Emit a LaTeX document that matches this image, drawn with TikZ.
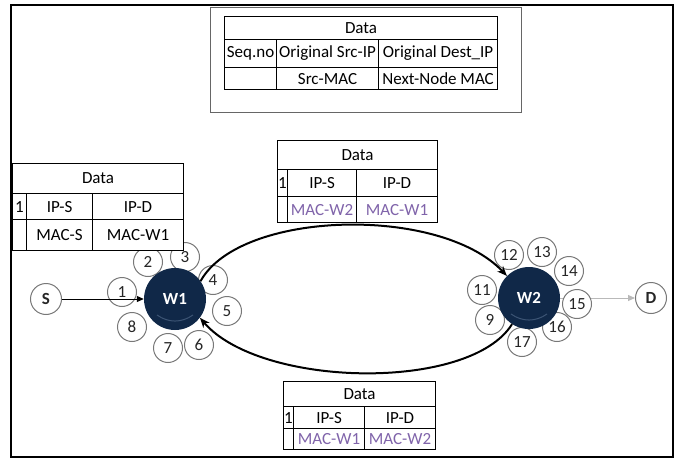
\documentclass[tikz,border=0pt]{standalone}
\usepackage{fontspec}
\setmainfont{Carlito}
\usetikzlibrary{arrows.meta, positioning}
\definecolor{wnavy}{RGB}{16,40,72}
\definecolor{wshade}{RGB}{60,84,116}
\definecolor{macpurple}{RGB}{128,100,170}
\definecolor{portgray}{RGB}{120,120,120}

\begin{document}
\begin{tikzpicture}[
  x=1pt, y=-1pt,
  cell/.style={draw, fill=white, line width=1.1pt, anchor=north west, inner sep=0pt, font=\fontsize{17}{19}\selectfont},
  mac/.style={cell, text=macpurple},
  port/.style={circle, draw=portgray, fill=white, line width=1pt, minimum size=29pt, inner sep=0pt, text=black!85, font=\fontsize{17}{19}\selectfont},
  term/.style={port, minimum size=31pt, font=\bfseries\fontsize{17}{19}\selectfont},
  hub/.style={circle, fill=wnavy, minimum size=62pt, inner sep=0pt, text=white, font=\bfseries\fontsize{17}{19}\selectfont},
  link/.style={-{Stealth[length=10pt, width=8pt]}, line width=2pt},
  arr/.style={-{Triangle[length=7pt, width=6pt]}, line width=1pt}
]
  \useasboundingbox (0,0) rectangle (678,458);
  \draw[line width=2pt] (11,5) rectangle (673,457);

  % end points
  \node[term] (S) at (46,299) {S};
  \node[term] (D) at (651,298) {D};
  \draw[arr, color=gray!55] (529,298) -- (D);

  % ports of W1
  \node[port] (p1) at (122,292) {1};
  \node[port] (p2) at (148,262) {2};
  \node[port] (p3) at (185,257) {3};
  \node[port] (p4) at (213,280) {4};
  \node[port] (p5) at (227,311) {5};
  \node[port] (p6) at (199,345) {6};
  \node[port] (p7) at (168,348) {7};
  \node[port] (p8) at (132,327) {8};

  % ports of W2
  \node[port] (p9) at (490,320) {9};
  \node[port] (p11) at (482,290) {11};
  \node[port] (p12) at (509,255) {12};
  \node[port] (p13) at (542,252) {13};
  \node[port] (p14) at (569,271) {14};
  \node[port] (p15) at (577,304) {15};
  \node[port] (p16) at (557,327) {16};
  \node[port] (p17) at (522,342) {17};

  % mesh nodes
  \node[hub] (W1) at (175,299) {W1};
  \node[hub] (W2) at (529,298) {W2};
  \draw[wshade, line width=1pt] ([xshift=-18pt, yshift=-16pt]W1.center) to[bend right=35] ([xshift=18pt, yshift=-16pt]W1.center);
  \draw[wshade, line width=1pt] ([xshift=-18pt, yshift=-16pt]W2.center) to[bend right=35] ([xshift=18pt, yshift=-16pt]W2.center);

  \draw[arr] (S) -- (W1);
  \draw[link] (W1.35) .. controls (240,210) and (440,205) .. (W2.135);
  \draw[link] (W2.237) .. controls (470,392) and (260,388) .. (W1.-37);

  % frame format
  \node[draw=gray!80!black, line width=1.3pt, minimum width=311pt, minimum height=105pt, anchor=north west, inner sep=0pt] (fmt) at (210,7) {};
  \node[cell, minimum width=273pt, minimum height=23pt] (fdata) at (224,16) {Data};
  \node[cell, minimum width=52pt, minimum height=28pt] (fseq) at (224,39) {Seq.no};
  \node[cell, minimum width=102pt, minimum height=28pt] (fsrc) at (276,39) {Original Src-IP};
  \node[cell, minimum width=119pt, minimum height=28pt] (fdst) at (378,39) {Original Dest\_IP};
  \node[cell, minimum width=52pt, minimum height=22pt] (fblank) at (224,67) {};
  \node[cell, minimum width=102pt, minimum height=22pt] (fsmac) at (276,67) {Src-MAC};
  \node[cell, minimum width=119pt, minimum height=22pt] (fnmac) at (378,67) {Next-Node MAC};

  % frame S -> W1
  \node[cell, minimum width=171pt, minimum height=30pt] (adata) at (12,163) {Data};
  \node[cell, minimum width=14pt, minimum height=26pt] (aseq) at (12,193) {1};
  \node[cell, minimum width=66pt, minimum height=26pt] (aips) at (26,193) {IP-S};
  \node[cell, minimum width=91pt, minimum height=26pt] (aipd) at (92,193) {IP-D};
  \node[cell, minimum width=14pt, minimum height=31pt] (ablank) at (12,219) {};
  \node[cell, minimum width=66pt, minimum height=31pt] (amacs) at (26,219) {MAC-S};
  \node[cell, minimum width=91pt, minimum height=31pt] (amacd) at (92,219) {MAC-W1};

  % frame W2 -> W1
  \node[cell, minimum width=160pt, minimum height=29pt] (bdata) at (277,140) {Data};
  \node[cell, minimum width=10pt, minimum height=27pt] (bseq) at (277,169) {1};
  \node[cell, minimum width=69pt, minimum height=27pt] (bips) at (287,169) {IP-S};
  \node[cell, minimum width=81pt, minimum height=27pt] (bipd) at (356,169) {IP-D};
  \node[cell, minimum width=10pt, minimum height=26pt] (bblank) at (277,196) {};
  \node[mac, minimum width=69pt, minimum height=26pt] (bmacs) at (287,196) {MAC-W2};
  \node[mac, minimum width=81pt, minimum height=26pt] (bmacd) at (356,196) {MAC-W1};

  % frame W1 -> W2
  \node[cell, minimum width=152pt, minimum height=25pt] (cdata) at (283,381) {Data};
  \node[cell, minimum width=10pt, minimum height=22pt] (cseq) at (283,406) {1};
  \node[cell, minimum width=71pt, minimum height=22pt] (cips) at (293,406) {IP-S};
  \node[cell, minimum width=71pt, minimum height=22pt] (cipd) at (364,406) {IP-D};
  \node[cell, minimum width=10pt, minimum height=21pt] (cblank) at (283,428) {};
  \node[mac, minimum width=71pt, minimum height=21pt] (cmacs) at (293,428) {MAC-W1};
  \node[mac, minimum width=71pt, minimum height=21pt] (cmacd) at (364,428) {MAC-W2};
\end{tikzpicture}
\end{document}
